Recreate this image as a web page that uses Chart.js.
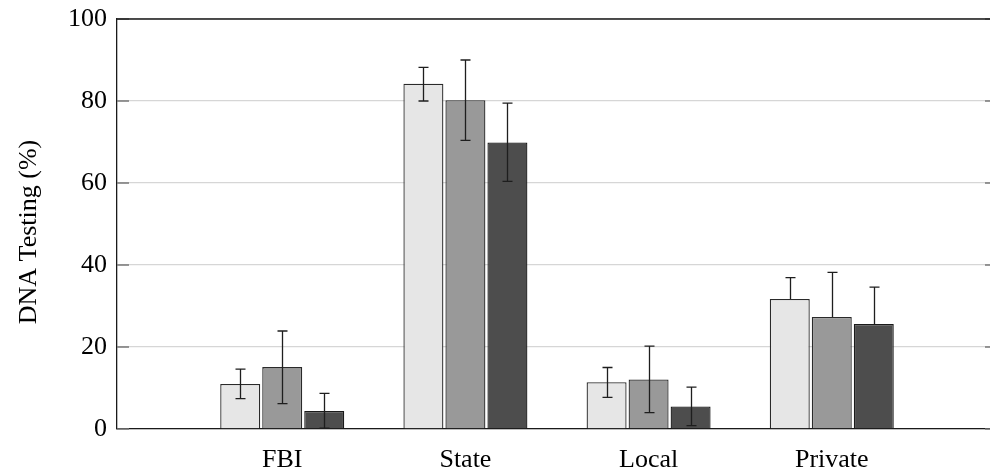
<!DOCTYPE html>
<html>
<head>
<meta charset="utf-8">
<script src="https://cdn.jsdelivr.net/npm/chart.js@4/dist/chart.umd.min.js"></script>
<style>
html, body { margin: 0; padding: 0; overflow: hidden; background: #fff; }
canvas { display: block; }
</style>
</head>
<body>
<canvas id="c" width="998" height="472"></canvas>
<script>
// ---- data ----
const categories = ['FBI', 'State', 'Local', 'Private'];
const yTicks = [0, 20, 40, 60, 80, 100];
const yTitle = 'DNA Testing (%)';

const series1 = [11.0, 84.2, 11.4, 31.7];
const series1Low = [7.4, 80.0, 7.7, null];
const series1High = [14.6, 88.2, 15.0, 36.9];

const series2 = [15.1, 80.2, 12.1, 27.3];
const series2Low = [6.2, 70.4, 4.0, null];
const series2High = [23.9, 90.0, 20.2, 38.2];

const series3 = [4.4, 69.9, 5.5, 25.6];
const series3Low = [0.2, 60.4, 0.8, null];
const series3High = [8.7, 79.5, 10.2, 34.6];

const FONT = '"Liberation Serif", "Times New Roman", serif';

function pts(vals) { return vals.map((v, i) => ({ x: i + 1, y: v })); }

const errs = [
  { low: series1Low, high: series1High },
  { low: series2Low, high: series2High },
  { low: series3Low, high: series3High }
];

const errorBars = {
  id: 'errorBars',
  afterDatasetsDraw(chart) {
    const ctx = chart.ctx;
    const ys = chart.scales.y;
    ctx.save();
    ctx.strokeStyle = '#1e1e1e';
    ctx.lineWidth = 1.3;
    chart.data.datasets.forEach((ds, di) => {
      const meta = chart.getDatasetMeta(di);
      meta.data.forEach((bar, i) => {
        const x = Math.round(bar.x) + 0.5;
        const hi = ys.getPixelForValue(errs[di].high[i]);
        const loVal = errs[di].low[i];
        const lo = loVal === null ? ys.getPixelForValue(ds.data[i].y) : ys.getPixelForValue(loVal);
        ctx.beginPath();
        ctx.moveTo(x, lo); ctx.lineTo(x, hi);
        ctx.moveTo(x - 5, hi); ctx.lineTo(x + 5, hi);
        if (loVal !== null) { ctx.moveTo(x - 5, lo); ctx.lineTo(x + 5, lo); }
        ctx.stroke();
      });
    });
    ctx.restore();
  }
};

const frame = {
  id: 'frame',
  beforeDatasetsDraw(chart) {
    const ctx = chart.ctx;
    const a = chart.chartArea;
    const ys = chart.scales.y;
    ctx.save();
    ctx.strokeStyle = '#7a7a7a';
    ctx.lineWidth = 1.3;
    yTicks.forEach(v => {
      const y = ys.getPixelForValue(v);
      ctx.beginPath();
      ctx.moveTo(a.left, y); ctx.lineTo(a.left + 12, y);
      ctx.moveTo(a.right, y); ctx.lineTo(a.right - 12, y);
      ctx.stroke();
    });
    ctx.restore();
  },
  afterDraw(chart) {
    const ctx = chart.ctx;
    const a = chart.chartArea;
    ctx.save();
    ctx.strokeStyle = '#1a1a1a';
    ctx.lineWidth = 1.3;
    ctx.beginPath();
    ctx.moveTo(a.left, a.top); ctx.lineTo(a.right, a.top);
    ctx.lineTo(a.right, a.bottom);
    ctx.stroke();
    ctx.fillStyle = '#000';
    ctx.font = '26px ' + FONT;
    ctx.translate(36, 232);
    ctx.rotate(-Math.PI / 2);
    ctx.textAlign = 'center';
    ctx.textBaseline = 'alphabetic';
    ctx.fillText(yTitle, 0, 0);
    ctx.restore();
  }
};

new Chart(document.getElementById('c'), {
  type: 'bar',
  data: {
    datasets: [
      { data: pts(series1), backgroundColor: '#e6e6e6', borderColor: '#2a2a2a', borderWidth: 1.3 },
      { data: pts(series2), backgroundColor: '#999999', borderColor: '#2a2a2a', borderWidth: 1.3 },
      { data: pts(series3), backgroundColor: '#4d4d4d', borderColor: '#1a1a1a', borderWidth: 1.3 }
    ]
  },
  options: {
    responsive: false,
    animation: false,
    devicePixelRatio: 1,
    layout: { padding: { left: 0, top: 19, right: 1, bottom: 0 } },
    datasets: { bar: { categoryPercentage: 0.688, barPercentage: 0.952, grouped: true } },
    plugins: { legend: { display: false }, tooltip: { enabled: false } },
    scales: {
      x: {
        type: 'linear',
        min: 0.098,
        max: 4.902,
        offset: false,
        afterBuildTicks(scale) { scale.ticks = categories.map((c, i) => ({ value: i + 1 })); },
        afterFit(scale) { scale.height = 43; scale.paddingLeft = 0; scale.paddingRight = 0; },
        ticks: {
          callback: (v) => categories[v - 1] || '',
          font: { family: FONT, size: 26 },
          color: '#000',
          padding: 16,
          maxRotation: 0,
          autoSkip: false
        },
        grid: { display: false, drawTicks: false },
        border: { display: true, color: '#1a1a1a', width: 1.3 }
      },
      y: {
        min: 0,
        max: 100,
        afterBuildTicks(scale) { scale.ticks = yTicks.map(v => ({ value: v })); },
        afterFit(scale) { scale.width = 117; scale.paddingTop = 0; scale.paddingBottom = 0; },
        ticks: {
          font: { family: FONT, size: 26 },
          color: '#000',
          padding: 10
        },
        grid: { color: '#d6d6d6', lineWidth: 1.3, drawTicks: false },
        border: { display: true, color: '#1a1a1a', width: 1.3 }
      }
    }
  },
  plugins: [frame, errorBars]
});
</script>
</body>
</html>
